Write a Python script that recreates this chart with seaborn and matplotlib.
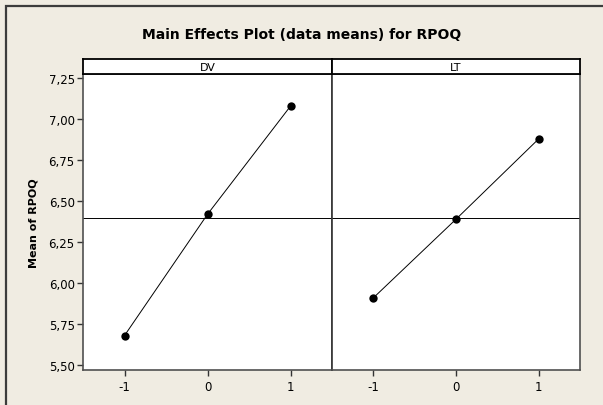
import numpy as np
import pandas as pd
import matplotlib
matplotlib.use('Agg')
import matplotlib.pyplot as plt
import seaborn as sns
from matplotlib.ticker import FuncFormatter
from matplotlib.patches import Rectangle

# data
levels = [-1, 0, 1]
dv_means = [5.68, 6.42, 7.08]
lt_means = [5.91, 6.39, 6.88]
grand_mean = 6.395
factors = ['DV', 'LT']
yticks = [5.50, 5.75, 6.00, 6.25, 6.50, 6.75, 7.00, 7.25]

df = pd.DataFrame({
    'factor': ['DV'] * 3 + ['LT'] * 3,
    'level': levels + levels,
    'mean': dv_means + lt_means,
})

sns.set_style('white')
plt.rcParams['font.family'] = ['DejaVu Sans']
plt.rcParams['text.color'] = 'black'
plt.rcParams['xtick.color'] = 'black'
plt.rcParams['ytick.color'] = 'black'

W, H = 603, 406
bg = '#F0ECE2'
fig = plt.figure(figsize=(W / 100, H / 100), dpi=100, facecolor=bg)

# frame of the graph window (only top/left visible)
fig.add_artist(Rectangle((6 / W, -0.1), 1.2, (H - 7) / H + 0.1, transform=fig.transFigure,
                         fill=False, edgecolor='#3c3c3c', lw=1.6))


def box(l, t, r, b):
    return [l / W, 1 - b / H, (r - l) / W, (b - t) / H]


edges = [(83, 332), (332, 580)]
top, bottom, strip_top = 75, 371, 60

axes = []
for i, f in enumerate(factors):
    l, r = edges[i]
    ax = fig.add_axes(box(l, top, r, bottom), sharey=axes[0] if axes else None)
    axes.append(ax)
    sns.lineplot(data=df[df['factor'] == f], x='level', y='mean', marker='o', color='black',
                 lw=0.7, markersize=6, markeredgewidth=0, ax=ax)
    ax.axhline(grand_mean, color='black', lw=0.7, zorder=1)
    ax.set_xlim(-1.5, 1.5)
    ax.set_ylim(5.47, 7.276)
    ax.set_xticks(levels)
    ax.set_xticklabels([str(v) for v in levels])
    ax.set_xlabel('')
    ax.set_ylabel('')
    ax.set_facecolor('white')
    for s in ax.spines.values():
        s.set_color('#505050')
        s.set_linewidth(1.2)
    ax.tick_params(axis='x', direction='out', length=4, width=1, color='#333333',
                   labelcolor='black', labelsize=8.5, pad=3, bottom=True)
    if i == 0:
        ax.set_yticks(yticks)
        ax.yaxis.set_major_formatter(FuncFormatter(lambda v, p: f'{v:.2f}'.replace('.', ',')))
        ax.tick_params(axis='y', direction='out', length=4, width=1, color='#333333',
                       labelcolor='black', labelsize=8.5, pad=2, left=True)
    else:
        ax.tick_params(axis='y', left=False, labelleft=False)
        ax.spines['left'].set_color('#333333')

    # strip with the factor name
    sx = fig.add_axes(box(l, strip_top, r, top))
    sx.set_facecolor('white')
    sx.set_xticks([])
    sx.set_yticks([])
    for s in sx.spines.values():
        s.set_color('black')
        s.set_linewidth(1.3)
    sx.text(0.5, 0.47, f, ha='center', va='center', fontsize=8, color='black', transform=sx.transAxes)

fig.text(0.5, 1 - 35 / H, 'Main Effects Plot (data means) for RPOQ', ha='center', va='center',
         fontsize=10, fontweight='bold', color='black')
fig.text(33 / W, 1 - (top + bottom) / 2 / H, 'Mean of RPOQ', rotation=90, ha='center', va='center',
         fontsize=8, fontweight='bold', color='black')

fig.savefig('out.png', dpi=100, facecolor=bg)
